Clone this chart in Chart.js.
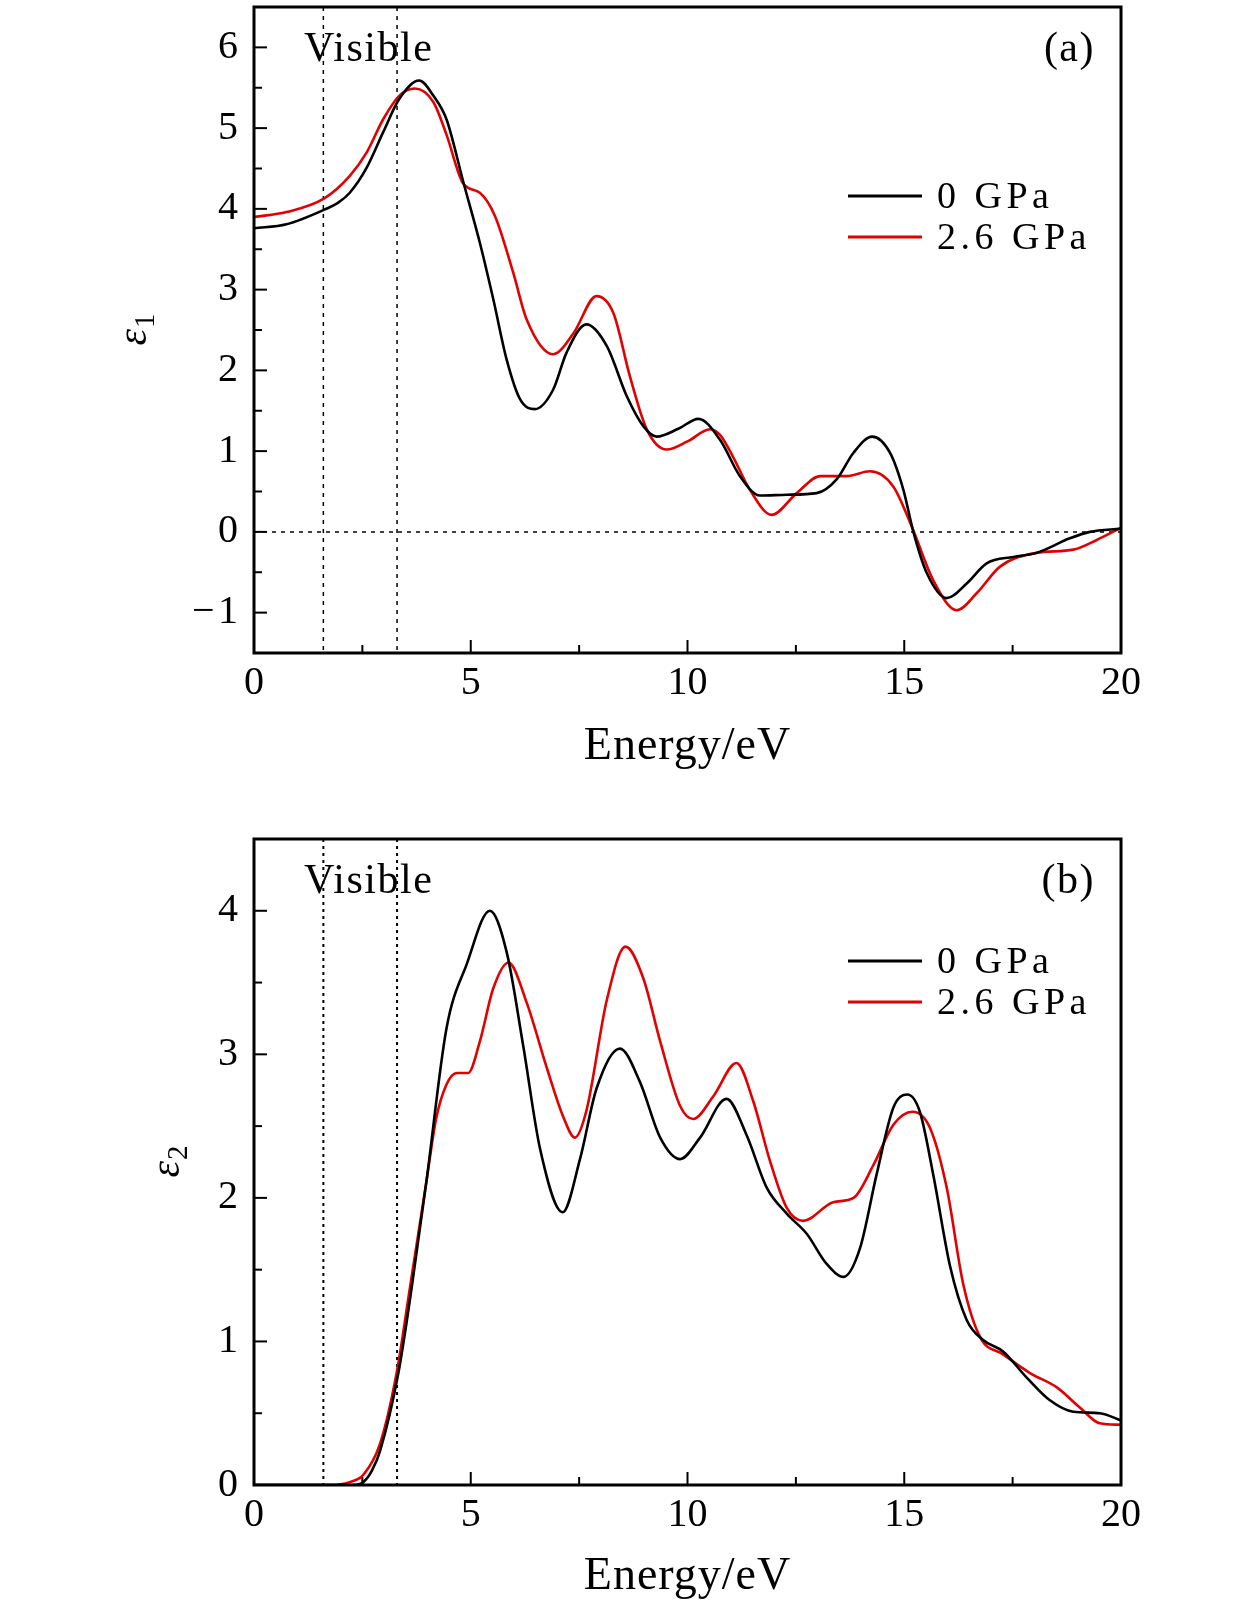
<!DOCTYPE html>
<html>
<head>
<meta charset="utf-8">
<script src="https://cdn.jsdelivr.net/npm/chart.js@4.4.1/dist/chart.umd.min.js"></script>
<style>
  html, body { margin: 0; padding: 0; background: #fff; }
  body { width: 1260px; height: 1606px; position: relative; overflow: hidden; }
  .panel { position: absolute; left: 0; width: 1260px; }
  #panelA { top: 0; height: 800px; }
  #panelB { top: 800px; height: 806px; }
</style>
</head>
<body>
<div class="panel" id="panelA"><canvas id="chartA"></canvas></div>
<div class="panel" id="panelB"><canvas id="chartB"></canvas></div>
<script>
// ---- data (energy in eV) ----
const seriesLabels = ['0 GPa', '2.6 GPa'];
const seriesColors = ['#000000', 'rgb(226,0,0)'];

// visible light window (dotted verticals)
const visibleRange = [1.6, 3.3];

// (a) real part, 0 GPa
const e1E0 = [0, 0.75, 1.62, 1.95, 2.21, 2.6, 2.98, 3.35, 3.81, 4.14, 4.44, 4.83, 5.21, 5.52, 5.83, 6.14, 6.48, 6.9, 7.21, 7.67, 8.14, 8.6, 8.98, 9.29, 9.8, 10.25, 10.75, 11.21, 11.67, 12.29, 12.98, 13.44, 13.83, 14.26, 14.67, 14.98, 15.21, 15.52, 15.98, 16.44, 16.9, 17.52, 18.05, 18.82, 19.28, 20];
const e1V0 = [3.76, 3.81, 3.99, 4.08, 4.2, 4.51, 4.95, 5.36, 5.59, 5.40, 5.11, 4.33, 3.58, 2.88, 2.13, 1.64, 1.52, 1.76, 2.22, 2.57, 2.30, 1.68, 1.31, 1.18, 1.28, 1.40, 1.14, 0.69, 0.45, 0.46, 0.48, 0.65, 0.98, 1.18, 0.98, 0.52, 0.0, -0.51, -0.82, -0.64, -0.39, -0.31, -0.26, -0.08, 0.0, 0.04];

// (a) real part, 2.6 GPa
const e1E1 = [0, 0.75, 1.62, 2.21, 2.6, 2.98, 3.35, 3.71, 4.14, 4.44, 4.83, 5.21, 5.56, 5.98, 6.29, 6.9, 7.37, 7.9, 8.29, 8.67, 9.06, 9.52, 10.0, 10.52, 10.75, 11.05, 11.44, 11.94, 12.52, 13.06, 13.67, 14.21, 14.75, 15.17, 15.67, 16.21, 16.67, 17.21, 18.05, 18.9, 19.44, 20];
const e1V1 = [3.90, 3.96, 4.13, 4.41, 4.70, 5.11, 5.40, 5.49, 5.32, 4.92, 4.31, 4.20, 3.91, 3.21, 2.63, 2.20, 2.46, 2.92, 2.71, 1.93, 1.27, 1.02, 1.12, 1.27, 1.20, 0.93, 0.52, 0.21, 0.48, 0.69, 0.69, 0.75, 0.56, 0.07, -0.60, -0.97, -0.76, -0.43, -0.26, -0.22, -0.10, 0.05];

// (b) imaginary part, 0 GPa
const e2E0 = [0, 1.0, 2.0, 2.3, 2.52, 2.72, 2.91, 3.33, 3.64, 3.98, 4.44, 4.91, 5.44, 5.83, 6.21, 6.6, 7.12, 7.52, 7.9, 8.44, 8.9, 9.37, 9.83, 10.29, 10.9, 11.36, 11.83, 12.29, 12.75, 13.21, 13.6, 13.98, 14.36, 14.75, 15.07, 15.36, 15.67, 16.06, 16.44, 16.82, 17.28, 17.82, 18.36, 18.9, 19.51, 20];
const e2V0 = [0, 0, 0, 0.0, 0.02, 0.1, 0.24, 0.78, 1.38, 2.12, 3.18, 3.63, 4.0, 3.71, 3.06, 2.34, 1.90, 2.27, 2.76, 3.04, 2.81, 2.42, 2.27, 2.42, 2.69, 2.44, 2.07, 1.89, 1.75, 1.54, 1.45, 1.65, 2.16, 2.63, 2.72, 2.60, 2.16, 1.52, 1.15, 1.01, 0.93, 0.75, 0.59, 0.51, 0.50, 0.45];

// (b) imaginary part, 2.6 GPa
const e2E1 = [0, 1.0, 1.75, 2.21, 2.52, 2.91, 3.29, 3.6, 3.98, 4.2, 4.44, 4.68, 4.94, 5.21, 5.52, 5.87, 6.29, 6.75, 7.14, 7.4, 7.67, 8.14, 8.57, 8.98, 9.37, 9.83, 10.13, 10.6, 11.13, 11.52, 11.9, 12.29, 12.67, 13.36, 13.83, 14.29, 14.75, 15.19, 15.59, 15.98, 16.36, 16.75, 17.28, 17.9, 18.52, 19.05, 19.51, 20];
const e2V1 = [0, 0, 0, 0.02, 0.07, 0.29, 0.78, 1.38, 2.12, 2.55, 2.79, 2.87, 2.87, 3.09, 3.46, 3.64, 3.36, 2.91, 2.56, 2.42, 2.61, 3.38, 3.75, 3.53, 3.09, 2.64, 2.55, 2.71, 2.94, 2.67, 2.26, 1.93, 1.84, 1.97, 2.00, 2.23, 2.51, 2.60, 2.49, 2.07, 1.40, 1.03, 0.91, 0.78, 0.68, 0.54, 0.43, 0.42];

// axis ticks
const energyTicks = [0, 5, 10, 15, 20];
const energyMinor = [2.5, 7.5, 12.5, 17.5];
const e1Ticks = [-1, 0, 1, 2, 3, 4, 5, 6];
const e1Minor = [-1.5, -0.5, 0.5, 1.5, 2.5, 3.5, 4.5, 5.5];
const e2Ticks = [0, 1, 2, 3, 4];
const e2Minor = [0.5, 1.5, 2.5, 3.5];

const SERIF = '"Liberation Serif", "Times New Roman", serif';

function toPoints(xs, ys) {
  return xs.map((x, i) => ({ x, y: ys[i] }));
}

function makeDatasets(pairs) {
  return pairs.map(([xs, ys], i) => ({
    label: seriesLabels[i],
    data: toPoints(xs, ys),
    borderColor: seriesColors[i],
    borderWidth: 2.6,
    pointRadius: 0,
    fill: false,
    cubicInterpolationMode: 'monotone'
  }));
}

function spaced(ctx, px) {
  if ('letterSpacing' in ctx) ctx.letterSpacing = px + 'px';
}

// frame, inward ticks, dotted guides, labels and legend
function makeDecor(cfg) {
  return {
    id: 'decor',
    beforeDatasetsDraw(chart) {
      const { ctx, chartArea: a, scales: { x, y } } = chart;
      ctx.save();
      ctx.strokeStyle = '#000';
      ctx.lineWidth = cfg.dashWidth;
      ctx.setLineDash(cfg.dash);
      visibleRange.forEach(e => {
        const px = x.getPixelForValue(e);
        ctx.beginPath(); ctx.moveTo(px, a.top); ctx.lineTo(px, a.bottom); ctx.stroke();
      });
      if (cfg.zeroLine) {
        const py = y.getPixelForValue(0);
        ctx.beginPath(); ctx.moveTo(a.left, py); ctx.lineTo(a.right, py); ctx.stroke();
      }
      ctx.restore();
    },
    afterDatasetsDraw(chart) {
      const { ctx, chartArea: a, scales: { x, y } } = chart;
      ctx.save();
      ctx.strokeStyle = '#000';
      ctx.fillStyle = '#000';
      ctx.lineWidth = 2;
      ctx.setLineDash([]);
      const tick = (x1, y1, x2, y2) => { ctx.beginPath(); ctx.moveTo(x1, y1); ctx.lineTo(x2, y2); ctx.stroke(); };
      energyTicks.forEach(v => { const px = x.getPixelForValue(v); tick(px, a.bottom, px, a.bottom - 13); });
      energyMinor.forEach(v => { const px = x.getPixelForValue(v); tick(px, a.bottom, px, a.bottom - 8); });
      cfg.yTicks.forEach(v => { const py = y.getPixelForValue(v); tick(a.left, py, a.left + 13, py); });
      cfg.yMinor.forEach(v => { const py = y.getPixelForValue(v); tick(a.left, py, a.left + 8, py); });

      ctx.lineWidth = 3;
      ctx.strokeRect(a.left, a.top, a.right - a.left, a.bottom - a.top);

      // annotations
      ctx.textBaseline = 'alphabetic';
      ctx.font = '42px ' + SERIF;
      spaced(ctx, 1.5);
      ctx.textAlign = 'left';
      ctx.fillText('Visible', a.left + 50, a.top + cfg.textDy);
      ctx.textAlign = 'right';
      ctx.fillText(cfg.tag, a.right - 26, a.top + cfg.textDy);

      // x axis title
      ctx.textAlign = 'center';
      ctx.textBaseline = 'middle';
      ctx.font = '46px ' + SERIF;
      spaced(ctx, 1);
      ctx.fillText('Energy/eV', (a.left + a.right) / 2, cfg.titleY);

      // legend
      ctx.textAlign = 'left';
      ctx.font = '38px ' + SERIF;
      spaced(ctx, 4.5);
      chart.data.datasets.forEach((ds, i) => {
        const ly = cfg.legendY + i * 41;
        ctx.strokeStyle = ds.borderColor;
        ctx.lineWidth = 3;
        tick(848, ly, 922, ly);
        ctx.fillText(ds.label, 937, ly + 2);
      });
      spaced(ctx, 0);

      // y axis symbol: italic epsilon with subscript, rotated
      ctx.translate(cfg.symX, (a.top + a.bottom) / 2);
      ctx.rotate(-Math.PI / 2);
      ctx.textBaseline = 'alphabetic';
      ctx.textAlign = 'left';
      ctx.font = 'italic 42px ' + SERIF;
      const w1 = ctx.measureText('ε').width;
      ctx.font = '29px ' + SERIF;
      const w2 = ctx.measureText(cfg.sub).width;
      const start = -(w1 + w2) / 2;
      ctx.font = 'italic 42px ' + SERIF;
      ctx.fillText('ε', start, 9);
      ctx.font = '29px ' + SERIF;
      ctx.fillText(cfg.sub, start + w1 + 1, 17);
      ctx.restore();
    }
  };
}

function makeChart(canvasId, datasets, yMin, yMax, yTicks, layoutTop, xHeight, decorCfg) {
  return new Chart(document.getElementById(canvasId), {
    type: 'line',
    data: { datasets },
    plugins: [makeDecor(decorCfg)],
    options: {
      responsive: true,
      maintainAspectRatio: false,
      animation: false,
      layout: { padding: { left: 0, right: 139, top: layoutTop, bottom: 0 } },
      plugins: { legend: { display: false }, tooltip: { enabled: false } },
      scales: {
        x: {
          type: 'linear',
          min: 0,
          max: 20,
          afterBuildTicks: s => { s.ticks = energyTicks.map(v => ({ value: v })); },
          afterFit: s => { s.height = xHeight; s.paddingLeft = 0; s.paddingRight = 0; },
          grid: { display: false, drawTicks: false },
          border: { display: false },
          ticks: { color: '#000', padding: 6, maxRotation: 0, font: { family: SERIF, size: 40 } },
          title: { display: false }
        },
        y: {
          type: 'linear',
          min: yMin,
          max: yMax,
          afterBuildTicks: s => { s.ticks = yTicks.map(v => ({ value: v })); },
          afterFit: s => { s.width = 254; s.paddingTop = 0; s.paddingBottom = 0; },
          grid: { display: false, drawTicks: false },
          border: { display: false },
          ticks: {
            color: '#000',
            padding: 16,
            font: { family: SERIF, size: 40 },
            callback: v => (v < 0 ? '\u2212\u200A' + Math.abs(v) : String(v))
          }
        }
      }
    }
  });
}

makeChart('chartA', makeDatasets([[e1E0, e1V0], [e1E1, e1V1]]), -1.5, 6.5, e1Ticks, 7, 147, {
  tag: '(a)', sub: '1', symX: 137, textDy: 54, legendY: 196, titleY: 747,
  yTicks: e1Ticks, yMinor: e1Minor, zeroLine: true, dash: [4, 5], dashWidth: 1.5
});

makeChart('chartB', makeDatasets([[e2E0, e2V0], [e2E1, e2V1]]), 0, 4.5, e2Ticks, 39, 121, {
  tag: '(b)', sub: '2', symX: 170, textDy: 54, legendY: 161, titleY: 777,
  yTicks: e2Ticks, yMinor: e2Minor, zeroLine: false, dash: [3, 4], dashWidth: 2
});
</script>
</body>
</html>
